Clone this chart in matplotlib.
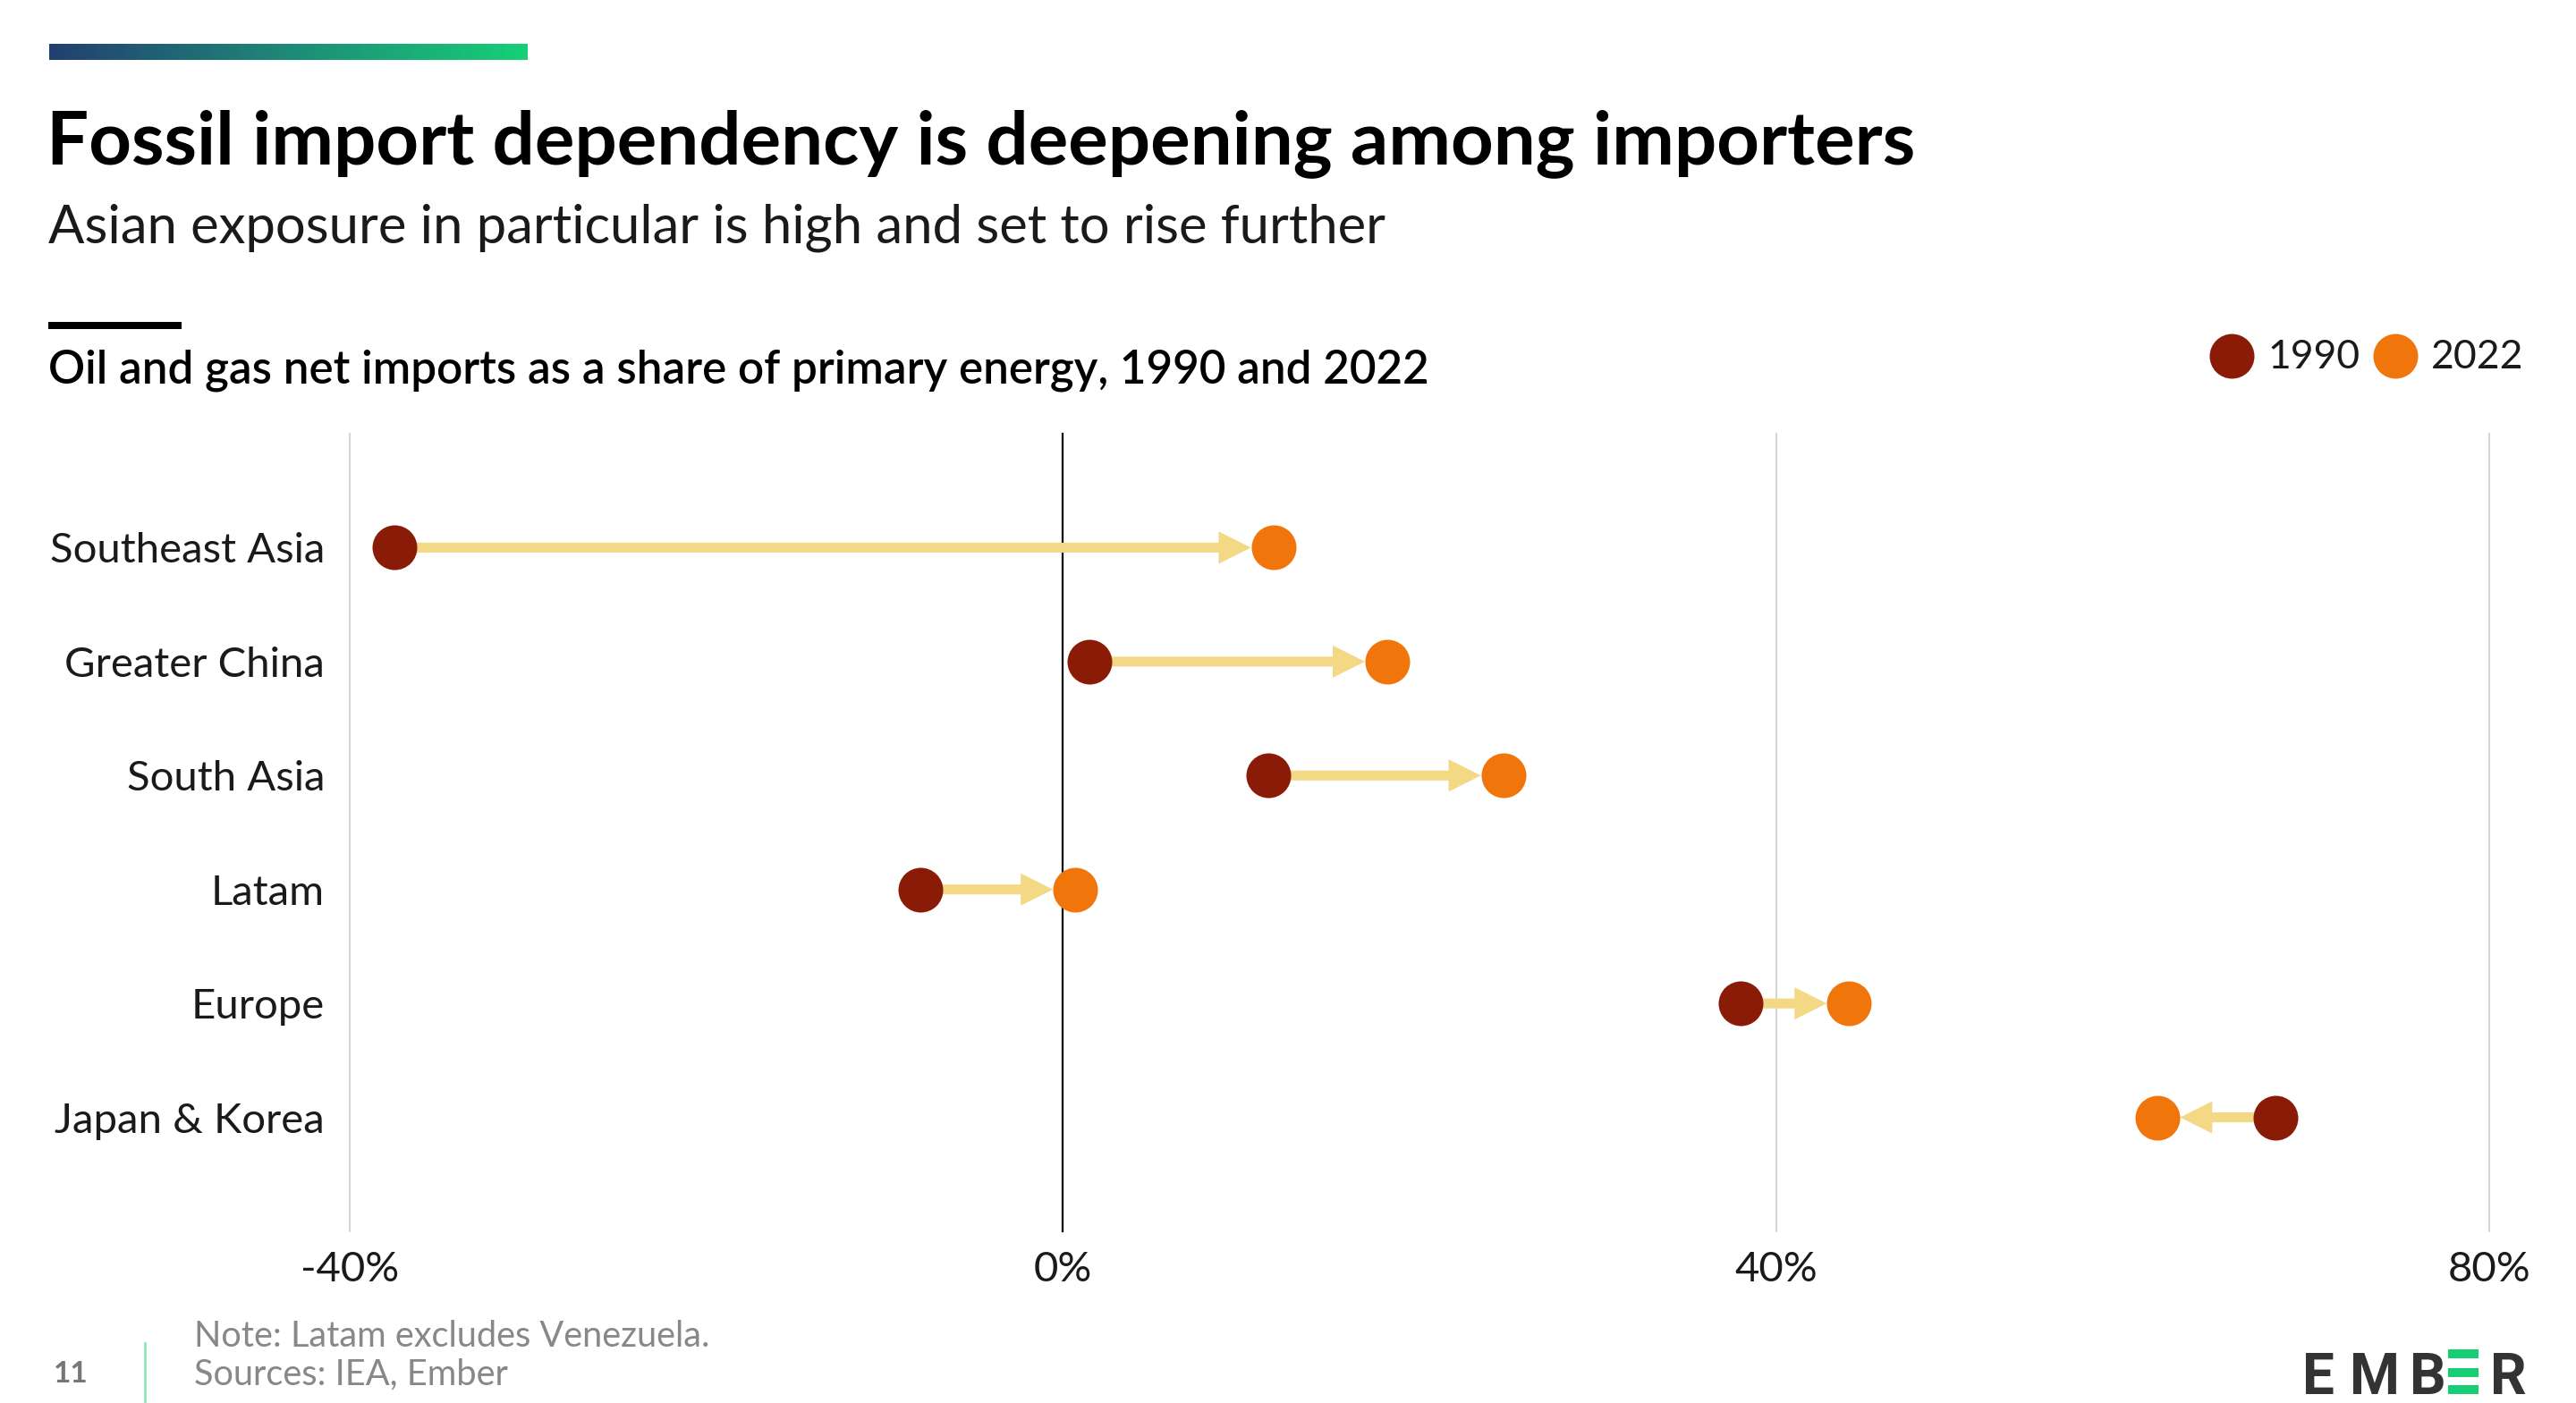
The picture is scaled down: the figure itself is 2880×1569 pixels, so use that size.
import numpy as np
import matplotlib.pyplot as plt
from matplotlib.colors import LinearSegmentedColormap
from matplotlib.patches import Rectangle
from matplotlib.lines import Line2D

# data (net imports, % of primary energy)
regions = ["Southeast Asia", "Greater China", "South Asia", "Latam", "Europe", "Japan & Korea"]
share_1990 = [-37.5, 1.5, 11.5, -8.0, 38.0, 68.0]
share_2022 = [11.8, 18.2, 24.7, 0.7, 44.1, 61.4]
x_ticks = [-40, 0, 40, 80]
x_tick_labels = ["-40%", "0%", "40%", "80%"]

c1990 = "#8a1c07"
c2022 = "#f0760c"
c_arrow = "#f3d886"
FONT = "Lato"

W, H = 2880, 1569
fig = plt.figure(figsize=(W / 200, H / 200), dpi=200)
fig.patch.set_facecolor("white")


def fx(px):
    return px / W


def fy(py):
    return 1 - py / H


# gradient bar at the top
gax = fig.add_axes([fx(55), fy(67), fx(590) - fx(55), 18 / H])
cmap = LinearSegmentedColormap.from_list("ember", ["#223f70", "#1e8a78", "#16d076"])
gax.imshow(np.linspace(0, 1, 256)[None, :], aspect="auto", cmap=cmap)
gax.axis("off")

fig.text(fx(52), fy(183), "Fossil import dependency is deepening among importers",
         fontsize=30, fontweight="bold", family=FONT, color="#000000", va="baseline")
fig.text(fx(54), fy(271), "Asian exposure in particular is high and set to rise further",
         fontsize=21.5, fontweight="normal", family=FONT, color="#1a1a1a", va="baseline")

fig.add_artist(Rectangle((fx(54), fy(368)), fx(203) - fx(54), 8 / H,
                         transform=fig.transFigure, color="black", lw=0))
fig.text(fx(54), fy(428), "Oil and gas net imports as a share of primary energy, 1990 and 2022",
         fontsize=18.4, fontweight="semibold", family=FONT, color="#000000", va="baseline")

# main axes
ax = fig.add_axes([fx(391), fy(1377), (2783 - 391) / W, (1377 - 485) / H])
ax.set_xlim(-40, 80)
ax.set_ylim(len(regions), -1)
for s in ax.spines.values():
    s.set_visible(False)
for t in x_ticks:
    if t == 0:
        ax.axvline(t, color="black", lw=0.8, zorder=1, clip_on=False)
    else:
        ax.axvline(t, color="#cccccc", lw=0.6, zorder=1, clip_on=False)

ax.set_xticks(x_ticks, x_tick_labels)
ax.set_yticks(range(len(regions)), regions)
ax.tick_params(axis="x", length=0, pad=8, labelsize=17, labelcolor="#1a1a1a")
ax.tick_params(axis="y", length=0, pad=10, labelsize=17, labelcolor="#1a1a1a")
for lab in ax.get_xticklabels() + ax.get_yticklabels():
    lab.set_family(FONT)
    lab.set_fontweight("normal")

for i, (a, b) in enumerate(zip(share_1990, share_2022)):
    ax.annotate("", xy=(b, i), xytext=(a, i),
                arrowprops=dict(arrowstyle="simple,head_length=13,head_width=13,tail_width=4",
                                mutation_scale=1, color=c_arrow, lw=0,
                                shrinkA=0, shrinkB=9), zorder=2)
ax.plot(share_1990, range(len(regions)), "o", ms=18, color=c1990, mec="none", zorder=3)
ax.plot(share_2022, range(len(regions)), "o", ms=18, color=c2022, mec="none", zorder=3)

# legend
for xc, col, lab in [(2495, c1990, "1990"), (2678, c2022, "2022")]:
    fig.add_artist(Line2D([fx(xc)], [fy(398)], marker="o", ms=18, color=col, mec="none",
                          transform=fig.transFigure))
    fig.text(fx(xc + 40), fy(399), lab, fontsize=16, fontweight="normal", family=FONT,
             color="#1a1a1a", va="center")

# footer
fig.text(fx(60), fy(1546), "11", fontsize=12, fontweight="bold", family=FONT,
         color="#777777", va="baseline")
fig.add_artist(Line2D([fx(162), fx(162)], [fy(1502), fy(1567)], color="#8de6b8", lw=1,
                      transform=fig.transFigure))
fig.text(fx(217), fy(1506), "Note: Latam excludes Venezuela.", fontsize=14.3, family=FONT,
         color="#888888", va="baseline")
fig.text(fx(217), fy(1548), "Sources: IEA, Ember", fontsize=14.3, family=FONT,
         color="#888888", va="baseline")

# logo
for xc, ch in [(2592, "E"), (2655, "M"), (2714, "B"), (2804, "R")]:
    fig.text(fx(xc), fy(1559), ch, fontsize=23, fontweight="bold", family="Roboto",
             color="#333333", va="baseline", ha="center")
for y0 in [1509, 1530, 1549]:
    fig.add_artist(Rectangle((fx(2737), fy(y0 + 10)), fx(2771) - fx(2737), 10 / H,
                             transform=fig.transFigure, color="#16cf74", lw=0))

fig.savefig("out.png", dpi=200, facecolor="white")
